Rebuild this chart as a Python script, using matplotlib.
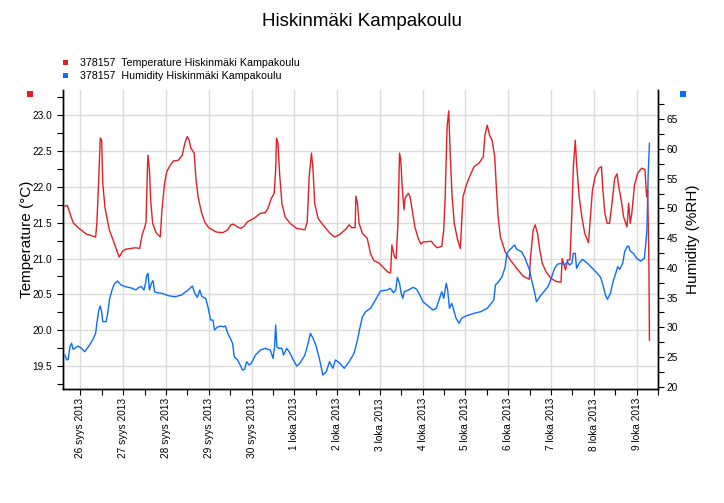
import matplotlib
matplotlib.use("Agg")
import matplotlib.pyplot as plt
from matplotlib.patches import Rectangle
from matplotlib.ticker import MultipleLocator, FormatStrFormatter

plt.rcParams['font.family'] = ['Liberation Sans', 'DejaVu Sans']

# ---------------- data ----------------
title = "Hiskinmäki Kampakoulu"
series_names = ["378157  Temperature Hiskinmäki Kampakoulu",
                "378157  Humidity Hiskinmäki Kampakoulu"]
# hours since 26 Sep 2013 00:00
temp_hours = [-8.7, -7.4, -5.9, -4.1, -1.3, 3.3, 8.5, 9.2, 10.3, 11.1, 11.9, 12.5, 13.8, 16.2, 19.0,
              21.7, 23.6, 25.4, 31.0, 33.2, 34.6, 36.1, 36.8, 37.6, 37.9, 38.7, 39.4, 40.5, 42.4, 44.8,
              45.7, 47.2, 48.4, 50.3, 52.1, 54.9, 57.1, 58.6, 59.9, 61.0, 61.9, 63.8, 64.7, 66.0, 67.8,
              69.7, 71.9, 76.1, 79.8, 82.6, 84.4, 85.7, 88.1, 89.9, 91.8, 93.6, 97.3, 101.0, 103.7, 105.2,
              107.1, 108.7, 109.5, 110.0, 110.8, 111.7, 113.0, 114.8, 117.6, 121.3, 125.9, 127.2, 128.3,
              129.6, 130.5, 131.4, 133.3, 136.0, 139.7, 142.5, 145.2, 148.9, 150.7, 152.2, 154.1, 154.5,
              155.4, 156.3, 158.2, 160.9, 162.7, 164.6, 167.3, 170.1, 172.5, 174.0, 174.7, 176.2, 177.1,
              178.1, 179.0, 179.7, 180.6, 181.5, 182.1, 183.9, 184.9, 186.1, 187.6, 189.5, 191.0, 192.2,
              196.9, 198.3, 200.2, 202.7, 203.8, 204.6, 205.7, 206.6, 207.5, 208.5, 209.7, 211.6, 213.1,
              213.8, 214.6, 216.2, 218.1, 220.8, 223.6, 226.0, 226.9, 228.2, 229.5, 230.9, 232.4, 233.4,
              234.3, 235.6, 238.3, 241.1, 244.8, 248.5, 251.8, 252.5, 254.0, 255.1, 256.4, 257.7, 259.1,
              261.3, 264.1, 266.9, 269.6, 270.2, 271.1, 272.1, 273.3, 274.6, 275.6, 276.5, 277.6, 278.3,
              279.8, 281.3, 282.9, 285.0, 286.1, 287.2, 288.7, 290.9, 292.3, 293.1, 294.2, 295.5, 296.8,
              298.2, 299.7, 301.0, 302.0, 303.4, 304.7, 306.6, 307.5, 308.4, 309.3, 310.8, 312.6, 314.9,
              316.7, 317.6, 318.2, 318.9, 319.2]
temp_values = [21.73, 21.74, 21.63, 21.50, 21.43, 21.34, 21.30, 21.49, 22.14, 22.68, 22.65, 22.05, 21.70,
               21.40, 21.21, 21.02, 21.10, 21.13, 21.15, 21.14, 21.33, 21.44, 21.51, 22.28, 22.44, 22.23,
               21.81, 21.49, 21.36, 21.30, 21.68, 22.05, 22.21, 22.30, 22.36, 22.37, 22.44, 22.61, 22.70,
               22.65, 22.54, 22.47, 22.14, 21.86, 21.65, 21.51, 21.43, 21.37, 21.36, 21.40, 21.47, 21.48,
               21.44, 21.42, 21.45, 21.51, 21.56, 21.63, 21.64, 21.70, 21.84, 21.91, 22.23, 22.68, 22.61,
               22.19, 21.77, 21.58, 21.49, 21.42, 21.40, 21.51, 22.14, 22.47, 22.23, 21.77, 21.56, 21.47,
               21.36, 21.30, 21.33, 21.41, 21.47, 21.43, 21.43, 21.87, 21.77, 21.49, 21.35, 21.28, 21.07,
               20.97, 20.94, 20.87, 20.81, 20.80, 21.19, 21.02, 21.00, 21.49, 22.47, 22.37, 21.95, 21.68,
               21.84, 21.91, 21.86, 21.68, 21.44, 21.28, 21.20, 21.23, 21.24, 21.19, 21.15, 21.17, 21.40,
               21.86, 22.84, 23.06, 22.42, 21.86, 21.49, 21.26, 21.14, 21.49, 21.86, 22.00, 22.13, 22.28,
               22.33, 22.42, 22.72, 22.86, 22.72, 22.65, 22.42, 21.95, 21.58, 21.30, 21.09, 20.98, 20.86,
               20.75, 20.71, 21.02, 21.40, 21.47, 21.35, 21.12, 20.93, 20.81, 20.72, 20.68, 20.67, 21.00,
               20.93, 20.84, 20.98, 20.98, 21.58, 22.28, 22.65, 22.33, 21.86, 21.58, 21.35, 21.22, 21.58,
               21.95, 22.14, 22.26, 22.28, 21.95, 21.63, 21.49, 21.49, 21.77, 22.12, 22.18, 22.00, 21.81,
               21.58, 21.44, 21.77, 21.49, 21.63, 22.02, 22.19, 22.26, 22.24, 21.86, 21.95, 20.93, 19.86]

hum_hours = [-8.7, -7.7, -6.9, -5.9, -5.0, -4.1, -1.3, 0.6, 2.4, 5.1, 7.0, 8.5, 9.2, 10.3, 11.1, 11.9,
             12.5, 14.4, 15.3, 16.2, 17.7, 19.0, 20.8, 22.7, 25.4, 29.1, 31.0, 32.8, 34.3, 35.6, 36.5,
             37.2, 37.9, 38.7, 39.8, 40.7, 41.6, 42.9, 45.7, 49.4, 53.1, 56.7, 60.4, 62.8, 64.1, 65.6,
             66.9, 68.2, 70.2, 71.5, 73.0, 74.3, 75.2, 76.6, 78.5, 80.4, 81.3, 82.6, 84.1, 85.3, 86.3,
             88.1, 89.6, 90.9, 92.1, 93.2, 94.6, 95.8, 98.2, 101.0, 103.7, 106.5, 108.0, 108.9, 109.5,
             110.2, 111.2, 113.0, 113.9, 115.7, 117.6, 119.4, 121.3, 123.1, 125.9, 127.7, 129.0, 130.5,
             132.3, 134.2, 136.0, 137.9, 139.7, 141.6, 143.0, 145.2, 148.0, 150.7, 153.5, 155.4, 156.7,
             158.2, 160.0, 162.7, 165.5, 168.3, 172.0, 173.8, 175.6, 176.9, 177.8, 179.0, 179.9, 180.8,
             181.7, 183.9, 186.7, 188.6, 190.4, 192.2, 195.0, 197.8, 199.6, 201.5, 202.7, 203.8, 205.2,
             206.0, 207.0, 208.3, 209.4, 210.7, 212.5, 213.8, 216.2, 220.8, 224.5, 228.2, 230.4, 231.9,
             232.8, 234.6, 236.5, 238.3, 239.2, 241.1, 243.5, 244.8, 247.5, 249.4, 251.6, 253.1, 254.9,
             255.8, 257.7, 259.5, 262.3, 264.1, 266.0, 267.8, 270.2, 271.5, 273.3, 274.3, 275.7, 276.5,
             277.6, 278.3, 279.8, 281.6, 284.4, 287.2, 289.9, 291.8, 293.1, 294.5, 295.6, 297.3, 298.8,
             300.0, 301.4, 302.5, 304.2, 305.3, 306.6, 307.5, 308.4, 310.2, 312.0, 314.4, 316.3, 317.0,
             317.8, 318.5, 319.2]
hum_values = [25.32, 24.48, 24.60, 26.72, 27.29, 26.28, 26.83, 26.45, 25.88, 27.00, 27.96, 28.97, 30.66,
              32.90, 33.57, 32.61, 30.93, 30.93, 32.34, 34.58, 36.26, 37.27, 37.78, 37.11, 36.82, 36.55,
              36.26, 36.72, 36.82, 36.26, 37.39, 38.79, 39.07, 36.26, 37.39, 37.83, 35.98, 35.81, 35.71,
              35.30, 35.13, 35.42, 36.26, 36.94, 35.71, 35.03, 36.26, 35.13, 34.87, 33.45, 31.21, 31.21,
              29.53, 29.98, 30.20, 30.08, 30.20, 28.97, 28.13, 27.29, 25.03, 24.48, 23.64, 22.79, 22.91,
              24.19, 23.64, 23.92, 25.32, 26.16, 26.45, 26.16, 24.76, 26.72, 30.37, 26.72, 26.45, 26.45,
              25.32, 26.45, 25.61, 24.48, 23.47, 23.92, 25.32, 27.29, 28.97, 28.13, 26.72, 24.48, 21.95,
              22.51, 24.19, 23.08, 24.48, 24.02, 23.08, 24.19, 25.61, 27.85, 29.81, 31.77, 32.61, 33.18,
              34.58, 36.09, 36.26, 36.55, 35.81, 36.26, 38.40, 37.39, 35.71, 34.87, 35.98, 36.26, 36.72,
              36.38, 35.42, 34.29, 33.57, 32.90, 33.18, 34.87, 35.98, 34.87, 37.39, 36.26, 33.18, 34.02,
              32.90, 31.50, 30.66, 31.50, 31.89, 32.34, 32.61, 33.18, 34.02, 34.58, 37.11, 37.66, 38.50,
              40.19, 42.44, 43.11, 43.84, 43.11, 42.71, 41.60, 39.92, 37.95, 35.71, 34.29, 35.13, 35.81,
              36.82, 38.23, 39.92, 40.64, 40.76, 40.47, 41.03, 40.47, 40.76, 42.44, 42.44, 39.92, 40.76,
              41.43, 40.76, 39.92, 39.07, 38.40, 37.11, 35.42, 34.70, 35.71, 37.66, 38.79, 40.19, 39.75,
              40.76, 42.71, 43.55, 43.67, 42.83, 42.44, 41.60, 41.14, 41.60, 43.55, 46.36, 55.91, 60.96]

day_labels = ["26 syys 2013", "27 syys 2013", "28 syys 2013", "29 syys 2013", "30 syys 2013",
              "1 loka 2013", "2 loka 2013", "3 loka 2013", "4 loka 2013", "5 loka 2013",
              "6 loka 2013", "7 loka 2013", "8 loka 2013", "9 loka 2013"]

# ---------------- style ----------------
RED = '#e31e24'
BLUE = '#0a6cff'
W, H = 724, 503
fs = 7.3

fig = plt.figure(figsize=(W / 100, H / 100), dpi=100)
L, R, T, B = 63, 658, 90, 389
ax = fig.add_axes([L / W, 1 - B / H, (R - L) / W, (B - T) / H])
ax2 = ax.twinx()

ax.plot(temp_hours, temp_values, color=RED, lw=1.0, zorder=3)
ax2.plot(hum_hours, hum_values, color=BLUE, lw=1.0, zorder=3)

ax.set_xlim(-9.8, 319.3)
ax.set_ylim(19.18, 23.35)
ax2.set_ylim(19.6, 69.93)

# x ticks
ax.set_xticks([24 * i for i in range(len(day_labels))])
ax.set_xticklabels(day_labels, rotation=90, fontsize=fs, va='top', ha='center')
ax.set_xticks([24 * i + 12 for i in range(len(day_labels))], minor=True)

ax.yaxis.set_major_locator(MultipleLocator(0.5))
ax.yaxis.set_minor_locator(MultipleLocator(0.25))
ax.yaxis.set_major_formatter(FormatStrFormatter('%.1f'))
ax2.yaxis.set_major_locator(MultipleLocator(5))
ax2.yaxis.set_minor_locator(MultipleLocator(2.5))

ax.tick_params(axis='both', which='both', direction='out', length=4, width=0.8, labelsize=fs)
ax.tick_params(axis='y', pad=4)
ax.tick_params(axis='x', pad=2.5)
ax2.tick_params(axis='y', which='both', direction='out', length=4, width=0.8, labelsize=fs, pad=2)

for a in (ax, ax2):
    a.spines['top'].set_visible(False)
    for s in ('left', 'right', 'bottom'):
        a.spines[s].set_linewidth(1.0)

ax.grid(True, which='major', color='#dcdcdc', lw=1.0, zorder=0)
ax.set_axisbelow(True)

ax.set_ylabel("Temperature (°C)", fontsize=11, labelpad=-1)
ax2.set_ylabel("Humidity (%RH)", fontsize=11, labelpad=6)

# title
fig.text(0.5, 1 - 22 / H, title, ha='center', va='center', fontsize=13.5)

# legend
for i, (name, col) in enumerate(zip(series_names, [RED, BLUE])):
    yy = 63 + 13 * i
    fig.add_artist(Rectangle(((62.5) / W, 1 - (yy + 2.5) / H), 5 / W, 5 / H,
                             transform=fig.transFigure, color=col, lw=0))
    fig.text(80 / W, 1 - yy / H, name, ha='left', va='center', fontsize=7.7)

# axis colour markers
fig.add_artist(Rectangle((27 / W, 1 - 97 / H), 6 / W, 6 / H, transform=fig.transFigure, color=RED, lw=0))
fig.add_artist(Rectangle((680 / W, 1 - 97 / H), 6 / W, 6 / H, transform=fig.transFigure, color=BLUE, lw=0))

fig.savefig("out.png", dpi=100)
